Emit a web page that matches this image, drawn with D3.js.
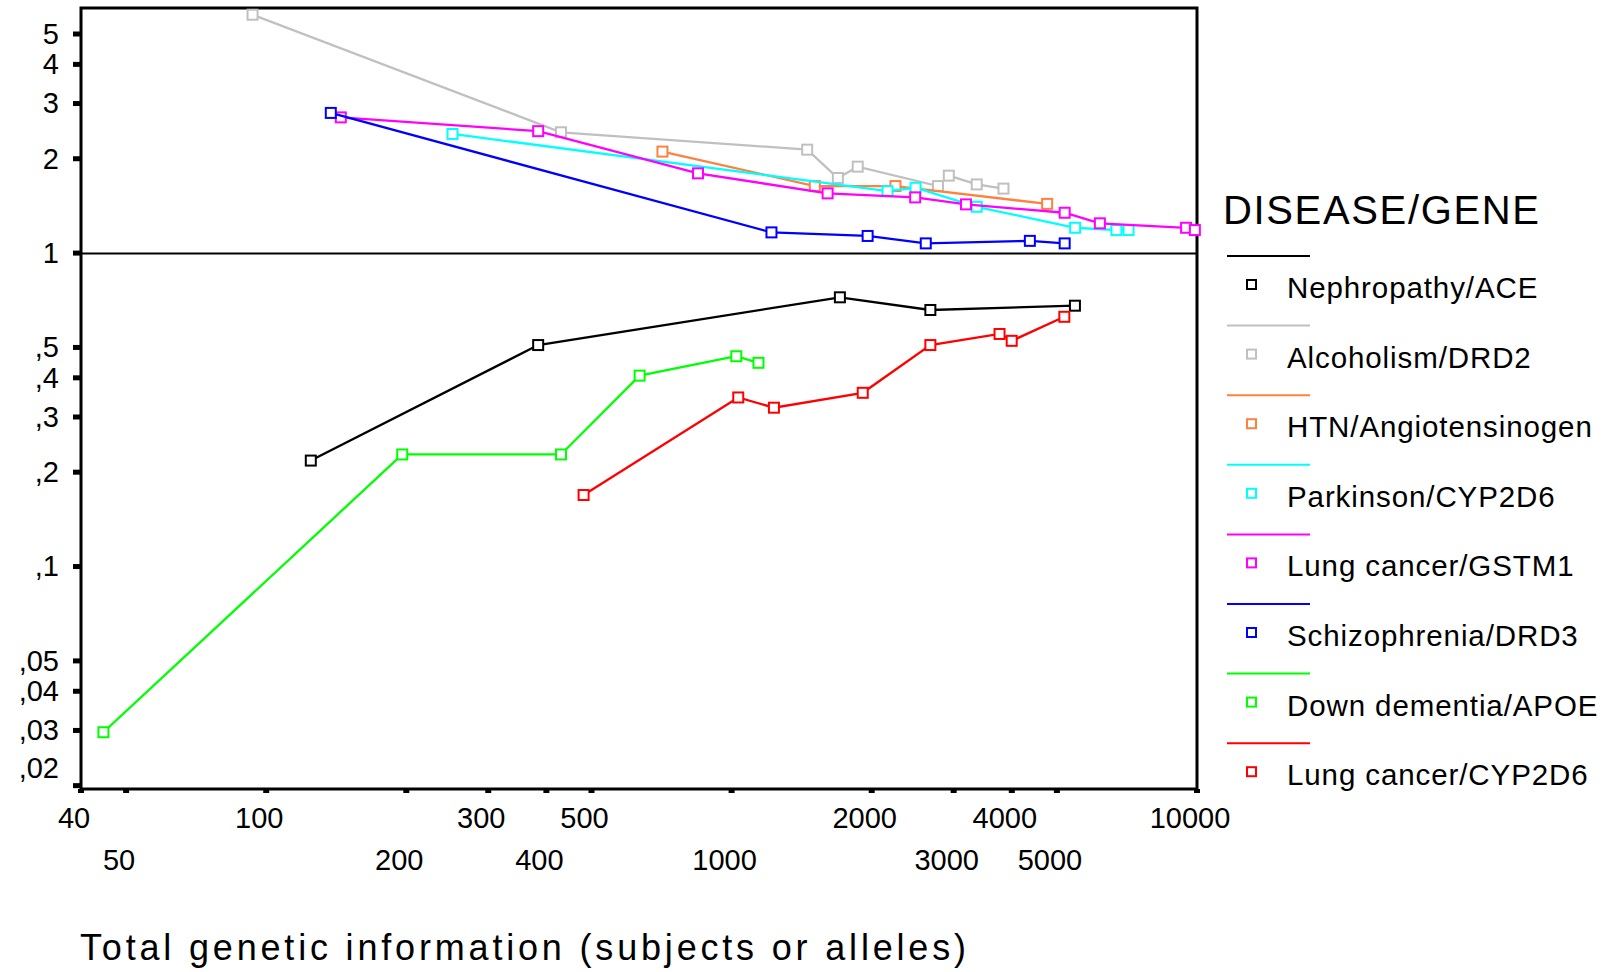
<!DOCTYPE html>
<html>
<head>
<meta charset="utf-8">
<script src="https://cdn.jsdelivr.net/npm/d3@7"></script>
<style>
  html, body { margin: 0; padding: 0; background: #fff; }
  svg { display: block; }
  text { font-family: "Liberation Sans", Arial, sans-serif; fill: #000; }
</style>
</head>
<body>
<svg id="chart" width="1618" height="972"></svg>
<script>
// ---------- DATA ----------
const categories = ["Nephropathy/ACE", "Alcoholism/DRD2", "HTN/Angiotensinogen", "Parkinson/CYP2D6",
                    "Lung cancer/GSTM1", "Schizophrenia/DRD3", "Down dementia/APOE", "Lung cancer/CYP2D6"];
const colors = ["#000000", "#c0c0c0", "#ff8040", "#00ffff", "#ff00ff", "#0000ff", "#00ff00", "#ff0000"];

const nephX = [125, 385, 1713, 2680, 5480];
const nephY = [0.217, 0.507, 0.72, 0.656, 0.677];
const alcX  = [93.7, 431, 1457, 1696, 1871, 2783, 2936, 3371, 3848];
const alcY  = [5.74, 2.42, 2.13, 1.73, 1.88, 1.63, 1.76, 1.65, 1.60];
const htnX  = [712, 1513, 2255, 4776];
const htnY  = [2.10, 1.63, 1.63, 1.43];
const parkX = [252, 2168, 2491, 3371, 5485, 6728, 7145];
const parkY = [2.39, 1.57, 1.61, 1.40, 1.20, 1.18, 1.18];
const gstX  = [145, 385, 849, 1612, 2486, 3197, 5209, 6200, 9498, 9920];
const gstY  = [2.70, 2.44, 1.79, 1.545, 1.50, 1.425, 1.34, 1.24, 1.20, 1.18];
const drd3X = [138, 1221, 1965, 2620, 4385, 5209];
const drd3Y = [2.79, 1.16, 1.13, 1.07, 1.09, 1.07];
const apoeX = [44.8, 196.5, 431, 636, 1026, 1145];
const apoeY = [0.0295, 0.227, 0.227, 0.405, 0.467, 0.445];
const cypX  = [482, 1036, 1236, 1918, 2680, 3774, 4008, 5200];
const cypY  = [0.1685, 0.345, 0.32, 0.357, 0.507, 0.55, 0.523, 0.624];

const seriesX = [nephX, alcX, htnX, parkX, gstX, drd3X, apoeX, cypX];
const seriesY = [nephY, alcY, htnY, parkY, gstY, drd3Y, apoeY, cypY];

const xTicks = [40, 50, 100, 200, 300, 400, 500, 1000, 2000, 3000, 4000, 5000, 10000];
const xTickRow2 = [50, 200, 400, 1000, 3000, 5000];
const yTicks = [5, 4, 3, 2, 1, 0.5, 0.4, 0.3, 0.2, 0.1, 0.05, 0.04, 0.03, 0.02];
const yTickLabels = ["5", "4", "3", "2", "1", ",5", ",4", ",3", ",2", ",1", ",05", ",04", ",03", ",02"];
const xDomain = [40, 10000];
const yDomain = [0.01944, 6.03];
const refValue = 1;
const xTitle = "Total genetic information (subjects or alleles)";
const legendTitle = "DISEASE/GENE";

// ---------- LAYOUT ----------
const plot = { left: 81, right: 1197, top: 8, bottom: 789 };
const svg = d3.select("#chart");

const x = d3.scaleLog().domain(xDomain).range([plot.left - 0.5, plot.right - 0.5]);
const y = d3.scaleLog().domain(yDomain).range([plot.bottom, plot.top]);

// frame
svg.append("rect")
  .attr("x", plot.left).attr("y", plot.top)
  .attr("width", plot.right - plot.left).attr("height", plot.bottom - plot.top)
  .attr("fill", "none").attr("stroke", "#000").attr("stroke-width", 3);

// reference line at 1
svg.append("line")
  .attr("x1", plot.left).attr("x2", plot.right)
  .attr("y1", y(refValue) + 1).attr("y2", y(refValue) + 1)
  .attr("stroke", "#000").attr("stroke-width", 2);

// y axis
const yAxis = d3.axisLeft(y)
  .tickValues(yTicks)
  .tickSize(8)
  .tickPadding(14)
  .tickFormat((d, i) => yTickLabels[i]);
const gy = svg.append("g").attr("transform", `translate(${plot.left},0)`).call(yAxis);
gy.select(".domain").remove();
gy.selectAll(".tick line").attr("stroke", "#000").attr("stroke-width", 5);
gy.selectAll(".tick text")
  .style("font-family", '"Liberation Sans", Arial, sans-serif')
  .attr("font-size", 29)
  .attr("dy", (d, i) => (i === yTicks.length - 1 ? "-0.25em" : "0.34em"));

// x axis
const xAxis = d3.axisBottom(x)
  .tickValues(xTicks)
  .tickSize(4)
  .tickFormat(d3.format("d"));
const gx = svg.append("g").attr("transform", `translate(0,${plot.bottom})`).call(xAxis);
gx.select(".domain").remove();
gx.selectAll(".tick line").attr("stroke", "#000").attr("stroke-width", 6);
gx.selectAll(".tick text")
  .style("font-family", '"Liberation Sans", Arial, sans-serif')
  .attr("font-size", 29)
  .attr("dy", 0)
  .attr("dx", -7)
  .attr("y", d => (xTickRow2.includes(d) ? 81 : 39));

// series
const line = d3.line().x(d => x(d[0])).y(d => y(d[1]));
categories.forEach((c, si) => {
  const pts = seriesX[si].map((v, i) => [v, seriesY[si][i]]);
  const g = svg.append("g");
  g.append("path").datum(pts)
    .attr("d", line)
    .attr("fill", "none")
    .attr("stroke", colors[si])
    .attr("stroke-width", 2.3);
  g.selectAll("rect").data(pts).enter().append("rect")
    .attr("x", d => x(d[0]) - 5).attr("y", d => y(d[1]) - 5)
    .attr("width", 10).attr("height", 10)
    .attr("fill", "#fff")
    .attr("stroke", colors[si]).attr("stroke-width", 2);
});

// x title
svg.append("text")
  .attr("x", 80).attr("y", 960)
  .attr("font-size", 36)
  .attr("textLength", 886).attr("lengthAdjust", "spacing")
  .text(xTitle);

// legend
const lg = svg.append("g");
lg.append("text")
  .attr("x", 1223).attr("y", 224)
  .attr("font-size", 40)
  .attr("textLength", 316).attr("lengthAdjust", "spacing")
  .text(legendTitle);
categories.forEach((c, i) => {
  const ly = 256 + i * 69.6;
  lg.append("line")
    .attr("x1", 1227).attr("x2", 1310).attr("y1", ly).attr("y2", ly)
    .attr("stroke", colors[i]).attr("stroke-width", 2);
  lg.append("rect")
    .attr("x", 1247).attr("y", ly + 24).attr("width", 9).attr("height", 9)
    .attr("fill", "#fff").attr("stroke", colors[i]).attr("stroke-width", 2);
  lg.append("text")
    .attr("x", 1287).attr("y", ly + 42)
    .attr("font-size", 29.5)
    .attr("letter-spacing", 0.9)
    .text(c);
});
</script>
</body>
</html>
